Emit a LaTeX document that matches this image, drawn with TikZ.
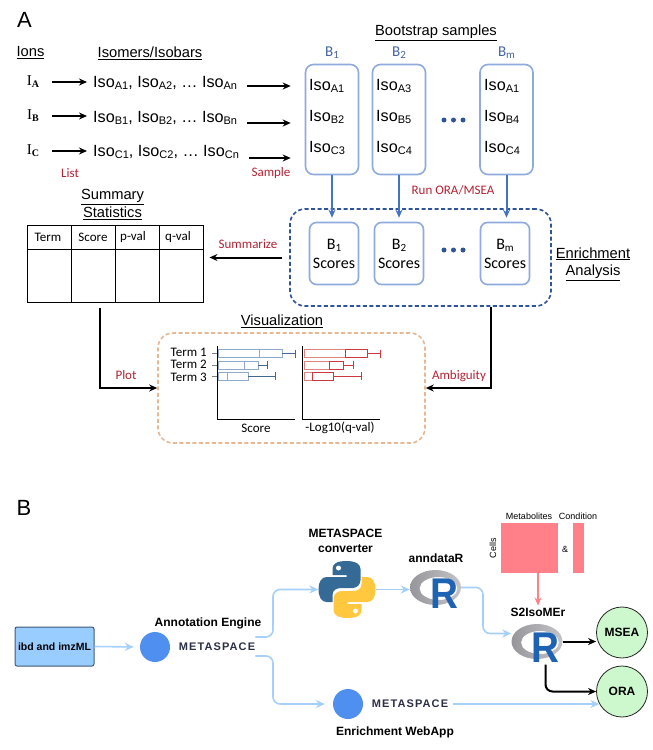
\documentclass[tikz,border=0pt]{standalone}
\usepackage{fontspec}
\setmainfont{Liberation Sans}
\newfontfamily\arialfont{Liberation Sans}
\newfontfamily\calibrifont{Carlito}
\newfontfamily\timesfont{Liberation Serif}
\usetikzlibrary{shapes, arrows.meta, positioning, calc}
\definecolor{bootblue}{RGB}{143, 170, 220}
\definecolor{arrowblue}{RGB}{68, 114, 196}
\definecolor{navyblue}{RGB}{47, 85, 151}
\definecolor{labelblue}{RGB}{68, 100, 160}
\definecolor{rubyred}{RGB}{178, 34, 52}
\definecolor{peach}{RGB}{232, 184, 147}
\definecolor{skyblue}{RGB}{166, 208, 250}
\definecolor{ibdfill}{RGB}{153, 204, 255}
\definecolor{ibdedge}{RGB}{63, 88, 120}
\definecolor{metablue}{RGB}{79, 143, 240}
\definecolor{metanavy}{RGB}{43, 47, 69}
\definecolor{salmon}{RGB}{255, 128, 136}
\definecolor{mint}{RGB}{205, 247, 205}
\definecolor{pyblue}{RGB}{54, 106, 150}
\definecolor{pyyellow}{RGB}{255, 200, 62}
\definecolor{rblue}{RGB}{30, 98, 180}
\definecolor{ringdark}{RGB}{150, 150, 155}
\definecolor{ringlight}{RGB}{195, 195, 200}
\definecolor{barblue}{RGB}{143, 170, 205}
\definecolor{whiskblue}{RGB}{68, 103, 143}
\definecolor{barred}{RGB}{222, 130, 130}
\definecolor{whiskred}{RGB}{205, 55, 62}
\pgfdeclareradialshading{metadisc}{\pgfpoint{4bp}{0bp}}{color(0bp)=(metablue); color(30bp)=(metablue); color(50bp)=(white)}
\newcommand{\sublab}[1]{\raisebox{-0.3ex}{\fontsize{11}{11}\selectfont #1}}
\newcommand{\isolab}[1]{Iso\sublab{#1}}
\newcommand{\snakeshape}[1]{%
    \fill[#1] (28,0) .. controls (18,0) and (14,3) .. (14,8) -- (14,14) -- (28,14) -- (28,16) -- (8,16)
        .. controls (3,16) and (0,21) .. (0,28) .. controls (0,36) and (3,41) .. (8,41) -- (14,41) -- (14,34)
        .. controls (14,29) and (18,27) .. (23,27) -- (34,27) .. controls (39,27) and (42,23) .. (42,19)
        -- (42,8) .. controls (42,3) and (37,0) .. (28,0) -- cycle;
    \fill[white] (20,7) circle (2.5pt);}
\newcommand{\ringlogo}[1]{%
    \path[even odd rule, left color=ringdark, right color=ringlight] (#1) ellipse (25.5pt and 17.5pt)
        ([shift={(3,1)}]#1) ellipse (19pt and 11.5pt);
    \node[rletter] (#1R) at ([shift={(8.5,6)}]#1) {R};}
\tikzset{
    panel/.style={inner sep=0pt, font=\arialfont\fontsize{22}{24}\selectfont},
    heading/.style={inner sep=0pt, align=center, font=\arialfont\fontsize{14.7}{17.5}\selectfont},
    isotext/.style={inner sep=0pt, anchor=west, font=\arialfont\fontsize{16.2}{18}\selectfont},
    redtext/.style={inner sep=0pt, text=rubyred, font=\calibrifont\fontsize{13}{15}\selectfont},
    caltext/.style={inner sep=0pt, font=\calibrifont\fontsize{13}{15}\selectfont},
    boldtext/.style={inner sep=0pt, align=center, font=\arialfont\bfseries\fontsize{12}{15}\selectfont},
    logotext/.style={inner sep=0pt, font=\arialfont\bfseries\addfontfeatures{LetterSpace=10}\fontsize{11}{13}\selectfont, text=metanavy},
    tinytext/.style={inner sep=0pt, font=\arialfont\fontsize{9}{10}\selectfont},
    bootbox/.style={draw=bootblue, line width=1.6pt, rounded corners=8pt, minimum width=53pt, minimum height=110pt, inner sep=0pt},
    scorebox/.style={draw=bootblue, line width=1.6pt, rounded corners=7pt, minimum width=49pt, minimum height=62pt, inner sep=0pt, align=center, font=\calibrifont\fontsize{16}{19}\selectfont},
    thickarrow/.style={-{Stealth[length=8pt, width=7pt]}, line width=2pt},
    bluearrow/.style={-{Stealth[length=8pt, width=7pt]}, line width=2pt, arrowblue},
    skyarrow/.style={-{Stealth[length=9pt, width=8pt, inset=3pt]}, line width=1.6pt, skyblue},
    metadot/.style={circle, minimum size=30pt, inner sep=0pt, shading=metadisc},
    ringnode/.style={minimum width=51pt, minimum height=35pt, inner sep=0pt},
    rletter/.style={inner sep=0pt, xscale=0.9, text=rblue, font=\arialfont\bfseries\fontsize{43}{43}\selectfont},
    outcircle/.style={circle, draw=black!85, fill=mint, line width=0.8pt, minimum size=51pt, inner sep=0pt, font=\arialfont\bfseries\fontsize{12}{14}\selectfont},
}
\begin{document}
\begin{tikzpicture}[x=1pt, y=-1pt]
    \useasboundingbox (0,0) rectangle (653,750);

    % Panel A headings
    \node[panel] (panelA) at (24.5,20) {A};
    \node[heading] (ionshead) at (30.5,53) {\underline{Ions}};
    \node[heading] (isohead) at (150,53) {\underline{Isomers/Isobars}};
    \node[heading] (boothead) at (436,33) {\underline{Bootstrap samples}};

    % Ions and their isomers
    \foreach \ion/\yy/\zz in {A/82/83, B/116/118, C/151/152} {
        \node[inner sep=0pt, minimum width=26pt, font=\timesfont\fontsize{15}{18}\selectfont] (ion\ion) at (33,\yy) {I\raisebox{-0.3ex}{\fontsize{10}{10}\selectfont\bfseries\ion}};
        \node[isotext] (iso\ion) at (93,\zz) {\isolab{\ion1}, \isolab{\ion2}, … \isolab{\ion n}};
        \draw[thickarrow] (ion\ion.east |- 0,\yy) -- (iso\ion.west |- 0,\yy) [shorten <=6pt, shorten >=6pt];
    }
    \node[redtext] (listlabel) at (70,173) {List};
    \node[redtext] (samplelabel) at (271,173) {Sample};

    % Bootstrap sample columns
    \foreach \col/\xx/\low/\isoa/\isob/\isoc/\bname in {1/332/309/A1/B2/C3/1, 2/399/376/A3/B5/C4/2, m/506.5/484/A1/B4/C4/m} {
        \node[font=\calibrifont\fontsize{15}{18}\selectfont, text=labelblue, inner sep=0pt] (bhead\col) at (\xx,53) {B\sublab{\bname}};
        \node[bootbox] (boot\col) at (\xx,119.5) {};
        \node[isotext] (bootA\col) at (\low,86) {\isolab{\isoa}};
        \node[isotext] (bootB\col) at (\low,117) {\isolab{\isob}};
        \node[isotext] (bootC\col) at (\low,148) {\isolab{\isoc}};
    }
    \foreach \ion/\yy in {A/86, B/123, C/158} {
        \draw[thickarrow] (iso\ion.east |- 0,\yy) -- (boot1.west |- 0,\yy) [shorten <=10pt, shorten >=14pt];
    }

    % Enrichment scores
    \node[draw=navyblue, dashed, dash pattern=on 4pt off 2.5pt, line width=1.6pt, rounded corners=15pt, minimum width=261pt, minimum height=97pt, inner sep=0pt] (enrich) at (420.5,257.5) {};
    \foreach \col/\xx/\bname in {1/334/1, 2/399/2, m/505/m} {
        \node[scorebox] (scores\col) at (\xx,253.5) {B\sublab{\bname}\\Scores};
        \draw[bluearrow, shorten >=4pt] (boot\col.south) -- (boot\col.south |- scores\col.north);
    }
    \foreach \dotname/\yy in {up/120, down/250} {
        \foreach \xx in {444,453.5,463} {
            \fill[navyblue] (\xx,\yy) circle (2.5pt);
        }
    }
    \node[redtext] (runlabel) at (453,190) {Run ORA/MSEA};
    \node[heading] (enrichhead) at (593,264) {\underline{Enrichment}\\\underline{Analysis}};

    % Summary table
    \node[heading] (sumhead) at (112.5,204.5) {\underline{Summary}\\\underline{Statistics}};
    \node[draw, line width=1pt, minimum width=176pt, minimum height=77pt, inner sep=0pt] (sumtable) at (115,263.5) {};
    \draw[line width=1pt] (27,249) -- (203,249);
    \foreach \xx in {71,115,159} {
        \draw[line width=1pt] (\xx,225) -- (\xx,302);
    }
    \foreach \colname/\xx/\coltext in {term/48/Term, score/93/Score, pval/133/p-val, qval/178/q-val} {
        \node[caltext] (\colname head) at (\xx,237) {\coltext};
    }
    \draw[thickarrow, shorten <=7pt, shorten >=6pt] (enrich.west) -- (sumtable.east |- enrich.west);
    \node[redtext] (sumlabel) at (248,244) {Summarize};

    % Visualization panel
    \node[heading] (vizhead) at (282,321) {\underline{Visualization}};
    \node[draw=peach, dashed, dash pattern=on 4pt off 2.5pt, line width=1.6pt, rounded corners=15pt, minimum width=267pt, minimum height=110pt, inner sep=0pt] (vizbox) at (291.5,388) {};
    \draw[thickarrow, shorten <=5pt] ([xshift=-15.5pt]sumtable.south) |- (vizbox.west);
    \draw[thickarrow] ([xshift=70.5pt]enrich.south) |- (vizbox.east);
    \node[redtext] (plotlabel) at (126,375) {Plot};
    \node[redtext] (amblabel) at (459,376) {Ambiguity};

    % Score bars
    \draw[line width=0.9pt] (217,346) -- (217,419) -- (295,419);
    \draw[line width=0.9pt] (302,346) -- (302,419) -- (380,419);
    \foreach \tnum/\yy/\tyy/\rgt/\med/\wsk in {1/353.5/352/282/259/295, 2/365/364.5/258/244/267, 3/376/377/248/227/275} {
        \node[caltext, anchor=east] (term\tnum) at (207,\tyy) {Term \tnum};
        \draw[gray, line width=0.6pt] (212,\yy) -- (217,\yy);
        \draw[barblue, line width=0.9pt] (218,\yy-4) rectangle (\rgt,\yy+4);
        \draw[barblue, line width=0.9pt] (\med,\yy-4) -- (\med,\yy+4);
        \draw[whiskblue, line width=0.7pt] (\rgt,\yy) -- (\wsk,\yy);
        \draw[whiskblue, line width=0.7pt] (\wsk,\yy-4) -- (\wsk,\yy+4);
    }
    \foreach \yy/\rgt/\med/\wsk in {353.5/367/345/380, 365/343/329/353, 376/333/312/361} {
        \draw[barred, line width=0.9pt] (304,\yy-4) rectangle (\rgt,\yy+4);
        \draw[whiskred, line width=0.8pt] (\med,\yy-4) rectangle (\rgt,\yy+4);
        \draw[whiskred, line width=0.7pt] (\rgt,\yy) -- (\wsk,\yy);
        \draw[whiskred, line width=0.7pt] (\wsk,\yy-4) -- (\wsk,\yy+4);
    }
    \node[caltext] (scoreaxis) at (256,428) {Score};
    \node[caltext] (logaxis) at (340,428) {-Log10(q-val)};

    % Panel B
    \node[panel] (panelB) at (24,508) {B};
    \node[draw=ibdedge, fill=ibdfill, line width=1pt, rounded corners=2pt, minimum width=79pt, minimum height=39pt, inner sep=0pt, font=\arialfont\bfseries\fontsize{10.5}{12}\selectfont] (ibd) at (54.5,646.5) {ibd and imzML};

    % Annotation engine
    \node[boldtext] (annotlabel) at (208,623) {Annotation Engine};
    \node[metadot] (annotdot) at (155,647) {};
    \node[logotext] (annotlogo) at (217,647) {METASPACE};
    \draw[skyarrow, shorten >=6pt] (ibd.east) -- (annotdot.west);

    % Enrichment web app
    \node[metadot] (webdot) at (348,704) {};
    \node[logotext] (weblogo) at (410,704) {METASPACE};
    \node[boldtext] (weblabel) at (395,732) {Enrichment WebApp};

    % Python converter
    \node[boldtext] (pylabel) at (345.5,540.5) {METASPACE\\converter};
    \node[minimum size=57pt, inner sep=0pt] (python) at (347,589.5) {};
    \begin{scope}[shift={(318.5,561)}]
        \snakeshape{pyblue}
    \end{scope}
    \begin{scope}[shift={(375.5,618)}, xscale=-1, yscale=-1]
        \snakeshape{pyyellow}
    \end{scope}

    % R packages
    \node[boldtext] (annlabel) at (436,558) {anndataR};
    \node[ringnode] (anndata) at (435.5,587.5) {};
    \ringlogo{anndata}
    \node[boldtext] (s2label) at (538,612) {S2IsoMEr};
    \node[ringnode] (s2iso) at (537,641.5) {};
    \ringlogo{s2iso}

    % Input matrices
    \node[fill=salmon, minimum width=57pt, minimum height=50pt, inner sep=0pt] (heatmap) at (529.5,548) {};
    \node[fill=salmon, minimum width=11pt, minimum height=50pt, inner sep=0pt] (condmap) at (578.5,548) {};
    \node[tinytext] (metablabel) at (529,516) {Metabolites};
    \node[tinytext] (condlabel) at (578,516) {Condition};
    \node[tinytext, rotate=90] (celllabel) at (493,548) {Cells};
    \node[tinytext] (andlabel) at (565,549) {\&};

    % Result circles
    \node[outcircle] (msea) at (622,632.5) {MSEA};
    \node[outcircle] (ora) at (622,691.5) {ORA};

    % Light blue connectors
    \coordinate (splitx) at (273,0);
    \coordinate (mergex) at (483,0);
    \coordinate (s2in) at ([yshift=8pt]s2iso.west);
    \draw[skyarrow, rounded corners=7pt] ([yshift=10pt]annotlogo.east) -| (splitx |- python.west) -- (python.west);
    \draw[skyarrow, rounded corners=7pt, shorten >=8pt] ([yshift=-9pt]annotlogo.east) -| (splitx |- webdot.west) -- (webdot.west);
    \draw[skyarrow] (python.east) -- (python.east -| anndata.west);
    \draw[skyarrow, rounded corners=7pt] (anndata.east) -| (mergex |- s2in) -- (s2in);
    \draw[skyarrow, shorten <=5pt] (weblogo.east) -- (weblogo.east -| ora.209);
    \draw[-{Stealth[length=8pt, width=7pt]}, line width=1.6pt, salmon, shorten >=2pt] ([xshift=8.5pt]heatmap.south) -- (s2label.north);

    % Black connectors
    \draw[thickarrow] (s2iso.east) -- (s2iso.east -| msea.west);
    \draw[thickarrow, rounded corners=7pt, shorten <=2pt] (s2isoR.south) |- (ora.west);
\end{tikzpicture}
\end{document}
